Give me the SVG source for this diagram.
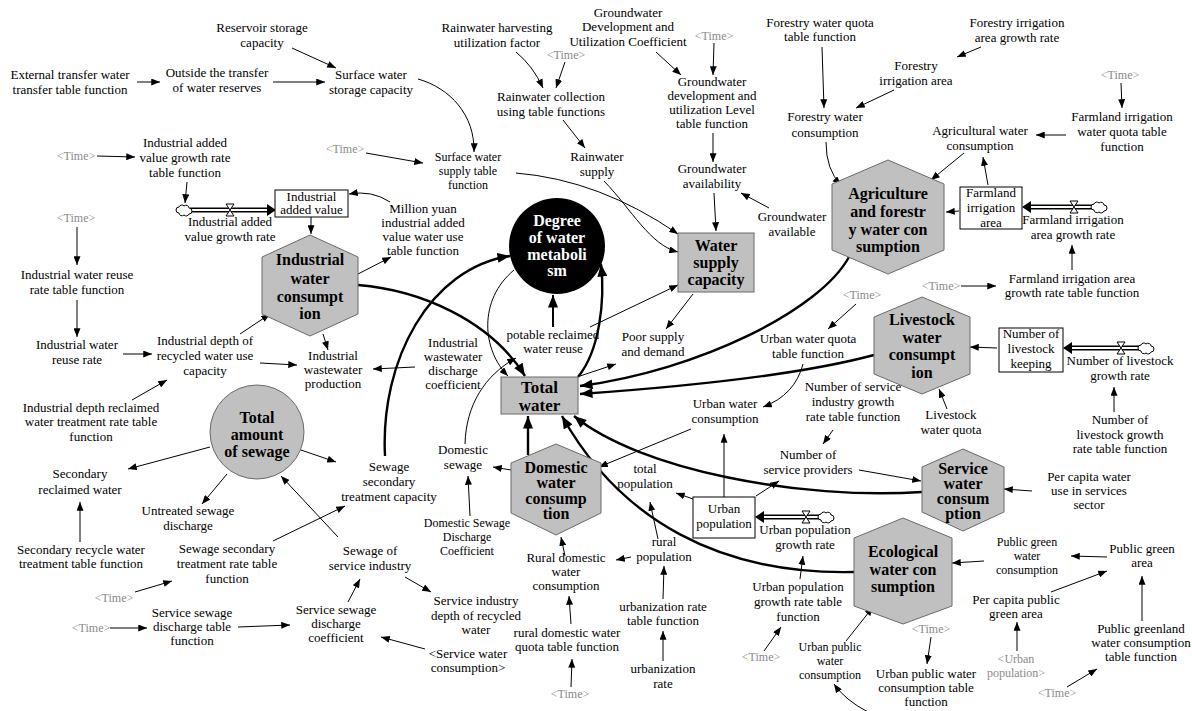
<svg xmlns="http://www.w3.org/2000/svg" width="1192" height="711" viewBox="0 0 1192 711">
<style>
.t{font-family:"Liberation Serif","Times New Roman",serif;font-size:13px;text-anchor:middle;fill:#000}
.s{font-size:12px}
.g{fill:#8a8a8a;font-size:12px}
.b{font-weight:bold;font-size:16px}
.w{fill:#fff}
.ln{fill:none;stroke:#000;stroke-width:1;marker-end:url(#a)}
.tk{fill:none;stroke:#000;stroke-width:2.4;marker-end:url(#A)}
.hex{fill:#c0c0c0;stroke:#6a6a6a;stroke-width:1}
.box{fill:#fff;stroke:#000;stroke-width:1}
.gbox{fill:#c0c0c0;stroke:#6a6a6a;stroke-width:1}
.po{fill:none;stroke:#000;stroke-width:5}
.pi{fill:none;stroke:#fff;stroke-width:2}
.vl{fill:#fff;stroke:#000;stroke-width:1}
</style>
<defs>
<marker id="a" viewBox="0 0 10 8" refX="10" refY="4" markerWidth="9" markerHeight="7" markerUnits="userSpaceOnUse" orient="auto"><path d="M0,0 L10,4 L0,8 z" fill="#000"/></marker>
<marker id="A" viewBox="0 0 10 8" refX="10" refY="4" markerWidth="13" markerHeight="10" markerUnits="userSpaceOnUse" orient="auto"><path d="M0,0 L10,4 L0,8 z" fill="#000"/></marker>
</defs>
<rect width="1192" height="711" fill="#fff"/>

<g id="connectors">
<path class="ln" d="M137,82 L160,82"/>
<path class="ln" d="M273,82 L325,82"/>
<path class="ln" d="M292,48 L336,68"/>
<path class="ln" d="M418,79 C450,88 475,115 474,152"/>
<path class="ln" d="M366,153 L423,163"/>
<path class="ln" d="M516,173 Q600,180 678,234"/>
<path class="ln" d="M516,52 Q533,66 543,88"/>
<path class="ln" d="M565,62 L556,88"/>
<path class="ln" d="M563,120 L585,148"/>
<path class="ln" d="M604,181 C632,210 650,245 678,252"/>
<path class="ln" d="M656,52 L681,75"/>
<path class="ln" d="M714,43 L713,75"/>
<path class="ln" d="M713,133 L713,162"/>
<path class="ln" d="M714,193 L716,231"/>
<path class="ln" d="M769,208 L741,193"/>
<path class="ln" d="M822,47 L824,108"/>
<path class="ln" d="M981,47 L957,57"/>
<path class="ln" d="M894,90 L856,108"/>
<path class="ln" d="M826,142 Q826,170 841,185"/>
<path class="ln" d="M1121,83 L1122,108"/>
<path class="ln" d="M1066,135 L1036,135"/>
<path class="ln" d="M964,153 L931,180"/>
<path class="ln" d="M988,185 L983,157"/>
<path class="ln" d="M959,211 L946,212"/>
<path class="ln" d="M1072,270 L1072,245"/>
<path class="ln" d="M961,286 L996,286"/>
<path class="ln" d="M97,156 L135,157"/>
<path class="ln" d="M187,182 L185,203"/>
<path class="ln" d="M311,217 L311,234"/>
<path class="ln" d="M390,202 Q372,190 349,194"/>
<path class="ln" d="M358,274 L391,257"/>
<path class="ln" d="M77,227 L77,265"/>
<path class="ln" d="M77,300 L77,337"/>
<path class="ln" d="M123,354 L152,354"/>
<path class="ln" d="M132,400 L167,380"/>
<path class="ln" d="M240,334 L270,314"/>
<path class="ln" d="M260,363 L297,365"/>
<path class="ln" d="M323,334 L328,350"/>
<path class="ln" d="M415,367 L373,369"/>
<path class="ln" d="M465,444 C466,405 485,375 516,358"/>
<path class="ln" d="M590,327 L678,285"/>
<path class="ln" d="M693,294 L666,329"/>
<path class="ln" d="M580,376 L616,364"/>
<path class="ln" d="M856,304 L828,329"/>
<path class="ln" d="M803,364 Q795,395 763,407"/>
<path class="ln" d="M691,429 L599,467"/>
<path class="ln" d="M724,497 L724,434"/>
<path class="ln" d="M833,430 L823,444"/>
<path class="ln" d="M859,470 L921,481"/>
<path class="ln" d="M756,496 L779,481"/>
<path class="ln" d="M997,348 L970,347"/>
<path class="ln" d="M1114,412 L1114,387"/>
<path class="ln" d="M947,409 L939,389"/>
<path class="ln" d="M1032,491 L1004,489"/>
<path class="ln" d="M693,499 L676,493"/>
<path class="ln" d="M658,539 L650,502"/>
<path class="ln" d="M631,557 L616,560"/>
<path class="ln" d="M663,599 L664,566"/>
<path class="ln" d="M663,661 L663,631"/>
<path class="ln" d="M800,579 L803,556"/>
<path class="ln" d="M764,651 L781,627"/>
<path class="ln" d="M846,641 L873,607"/>
<path class="ln" d="M868,712 Q845,700 834,684"/>
<path class="ln" d="M931,637 L927,664"/>
<path class="ln" d="M984,561 L952,563"/>
<path class="ln" d="M1107,557 L1071,556"/>
<path class="ln" d="M1051,592 L1107,571"/>
<path class="ln" d="M1017,651 L1017,622"/>
<path class="ln" d="M1142,621 L1142,576"/>
<path class="ln" d="M1067,687 L1097,669"/>
<path class="ln" d="M511,470 L493,467"/>
<path class="ln" d="M470,516 L468,476"/>
<path class="ln" d="M565,556 L561,537"/>
<path class="ln" d="M571,624 L569,596"/>
<path class="ln" d="M571,687 L572,659"/>
<path class="ln" d="M338,537 L281,476"/>
<path class="ln" d="M273,541 L345,506"/>
<path class="ln" d="M405,577 L431,592"/>
<path class="ln" d="M348,602 L360,579"/>
<path class="ln" d="M425,649 L381,637"/>
<path class="ln" d="M238,627 L290,625"/>
<path class="ln" d="M110,628 L147,628"/>
<path class="ln" d="M135,592 L172,581"/>
<path class="ln" d="M210,447 L128,469"/>
<path class="ln" d="M80,542 L80,502"/>
<path class="ln" d="M227,474 L202,504"/>
<path class="ln" d="M298,449 L336,462"/>
<path class="ln" d="M514,270 C478,300 482,350 508,376"/>
<path class="tk" d="M358,285 C420,290 490,320 525,376"/>
<path class="tk" d="M385,456 C380,360 430,268 510,256"/>
<path class="tk" d="M578,377 C600,350 605,300 601,264"/>
<path class="tk" d="M849,257 C820,310 700,370 580,386"/>
<path class="tk" d="M874,355 C800,375 680,387 580,394"/>
<path class="tk" d="M922,492 C800,500 640,470 574,416"/>
<path class="tk" d="M854,572 C720,575 620,520 562,416"/>
<path class="tk" d="M528,455 L528,416"/>
<path class="tk" style="stroke-width:2" d="M553,327 L553,295"/>
<path class="po" d="M190,210 H268"/><path class="pi" d="M190,210 H268"/>
<path d="M267,204 L276,210 L267,216 z" fill="#000"/>
<path class="vl" d="M226,204 H234 L230,210 L234,216 H226 L230,210 Z"/>
<path class="vl" d="M179,213 a3,3 0 0 1 0,-6 a3,3 0 0 1 5,-1 a3,3 0 0 1 5,2 a3,3 0 0 1 0,6 a3,3 0 0 1 -5,1 a3,3 0 0 1 -5,-2 z"/>
<path class="po" d="M1094,207 H1030"/><path class="pi" d="M1094,207 H1030"/>
<path d="M1031,201 L1022,207 L1031,213 z" fill="#000"/>
<path class="vl" d="M1070,201 H1078 L1074,207 L1078,213 H1070 L1074,207 Z"/>
<path class="vl" d="M1094,210 a3,3 0 0 1 0,-6 a3,3 0 0 1 5,-1 a3,3 0 0 1 5,2 a3,3 0 0 1 0,6 a3,3 0 0 1 -5,1 a3,3 0 0 1 -5,-2 z"/>
<path class="po" d="M1141,348 H1071"/><path class="pi" d="M1141,348 H1071"/>
<path d="M1072,342 L1063,348 L1072,354 z" fill="#000"/>
<path class="vl" d="M1117,342 H1125 L1121,348 L1125,354 H1117 L1121,348 Z"/>
<path class="vl" d="M1141,351 a3,3 0 0 1 0,-6 a3,3 0 0 1 5,-1 a3,3 0 0 1 5,2 a3,3 0 0 1 0,6 a3,3 0 0 1 -5,1 a3,3 0 0 1 -5,-2 z"/>
<path class="po" d="M821,517 H763"/><path class="pi" d="M821,517 H763"/>
<path d="M764,511 L755,517 L764,523 z" fill="#000"/>
<path class="vl" d="M802,511 H810 L806,517 L810,523 H802 L806,517 Z"/>
<path class="vl" d="M821,520 a3,3 0 0 1 0,-6 a3,3 0 0 1 5,-1 a3,3 0 0 1 5,2 a3,3 0 0 1 0,6 a3,3 0 0 1 -5,1 a3,3 0 0 1 -5,-2 z"/>
</g>

<g id="reservoir"><text class="t"><tspan x="262" y="32">Reservoir storage</tspan><tspan x="262" y="47">capacity</tspan></text></g>
<g id="ext-transfer"><text class="t"><tspan x="70" y="79">External transfer water</tspan><tspan x="70" y="94">transfer table function</tspan></text></g>
<g id="outside-transfer"><text class="t"><tspan x="217" y="77">Outside the transfer</tspan><tspan x="217" y="92">of water reserves</tspan></text></g>
<g id="surface-storage"><text class="t"><tspan x="371" y="79">Surface water</tspan><tspan x="371" y="94">storage capacity</tspan></text></g>
<g id="rain-factor"><text class="t"><tspan x="497" y="32">Rainwater harvesting</tspan><tspan x="497" y="47">utilization factor</tspan></text></g>
<g id="time1"><text class="t g" x="566" y="59">&lt;Time&gt;</text></g>
<g id="gw-coef"><text class="t"><tspan x="628" y="17">Groundwater</tspan><tspan x="628" y="31">Development and</tspan><tspan x="628" y="46">Utilization Coefficient</tspan></text></g>
<g id="time2"><text class="t g" x="714" y="40">&lt;Time&gt;</text></g>
<g id="rain-collect"><text class="t"><tspan x="551" y="101">Rainwater collection</tspan><tspan x="551" y="116">using table functions</tspan></text></g>
<g id="gw-level"><text class="t"><tspan x="712" y="86">Groundwater</tspan><tspan x="712" y="100">development and</tspan><tspan x="712" y="114">utilization Level</tspan><tspan x="712" y="128">table function</tspan></text></g>
<g id="forestry-quota"><text class="t"><tspan x="820" y="27">Forestry water quota</tspan><tspan x="820" y="41">table function</tspan></text></g>
<g id="forestry-growth"><text class="t"><tspan x="1017" y="27">Forestry irrigation</tspan><tspan x="1017" y="42">area growth rate</tspan></text></g>
<g id="forestry-area"><text class="t"><tspan x="916" y="70">Forestry</tspan><tspan x="916" y="85">irrigation area</tspan></text></g>
<g id="time3"><text class="t g" x="1120" y="79">&lt;Time&gt;</text></g>
<g id="forestry-consumption"><text class="t"><tspan x="825" y="121">Forestry water</tspan><tspan x="825" y="137">consumption</tspan></text></g>
<g id="farm-quota"><text class="t"><tspan x="1122" y="121">Farmland irrigation</tspan><tspan x="1122" y="136">water quota table</tspan><tspan x="1122" y="151">function</tspan></text></g>
<g id="agri-water"><text class="t"><tspan x="980" y="135">Agricultural water</tspan><tspan x="980" y="150">consumption</tspan></text></g>
<g id="time4"><text class="t g" x="345" y="153">&lt;Time&gt;</text></g>
<g id="surface-supply"><text class="t s"><tspan x="468" y="161">Surface water</tspan><tspan x="468" y="175">supply table</tspan><tspan x="468" y="189">function</tspan></text></g>
<g id="rain-supply"><text class="t"><tspan x="597" y="161">Rainwater</tspan><tspan x="597" y="176">supply</tspan></text></g>
<g id="gw-avail"><text class="t"><tspan x="712" y="173">Groundwater</tspan><tspan x="712" y="188">availability</tspan></text></g>
<g id="gw-available"><text class="t"><tspan x="792" y="221">Groundwater</tspan><tspan x="792" y="236">available</tspan></text></g>
<g id="time5"><text class="t g" x="76" y="160">&lt;Time&gt;</text></g>
<g id="ind-growth-table"><text class="t"><tspan x="185" y="147">Industrial added</tspan><tspan x="185" y="162">value growth rate</tspan><tspan x="185" y="177">table function</tspan></text></g>
<g id="ind-added-value"><rect class="box" x="275" y="190" width="73" height="27"/><text class="t"><tspan x="311.5" y="201">Industrial</tspan><tspan x="311.5" y="214">added value</tspan></text></g>
<g id="ind-growth-rate"><text class="t"><tspan x="230" y="226">Industrial added</tspan><tspan x="230" y="241">value growth rate</tspan></text></g>
<g id="million-yuan"><text class="t"><tspan x="423" y="213">Million yuan</tspan><tspan x="423" y="227">industrial added</tspan><tspan x="423" y="241">value water use</tspan><tspan x="423" y="255">table function</tspan></text></g>
<g id="time6"><text class="t g" x="76" y="222">&lt;Time&gt;</text></g>
<g id="ind-reuse-table"><text class="t"><tspan x="77" y="279">Industrial water reuse</tspan><tspan x="77" y="294">rate table function</tspan></text></g>
<g id="ind-reuse-rate"><text class="t"><tspan x="77" y="349">Industrial water</tspan><tspan x="77" y="364">reuse rate</tspan></text></g>
<g id="ind-depth"><text class="t"><tspan x="205" y="345">Industrial depth of</tspan><tspan x="205" y="360">recycled water use</tspan><tspan x="205" y="375">capacity</tspan></text></g>
<g id="ind-depth-reclaimed"><text class="t"><tspan x="91" y="412">Industrial depth reclaimed</tspan><tspan x="91" y="426">water treatment rate table</tspan><tspan x="91" y="441">function</tspan></text></g>
<g id="ind-wastewater"><text class="t"><tspan x="333" y="360">Industrial</tspan><tspan x="333" y="374">wastewater</tspan><tspan x="333" y="388">production</tspan></text></g>
<g id="ind-discharge-coef"><text class="t"><tspan x="453" y="347">Industrial</tspan><tspan x="453" y="361">wastewater</tspan><tspan x="453" y="375">discharge</tspan><tspan x="453" y="389">coefficient</tspan></text></g>
<g id="potable"><text class="t"><tspan x="553" y="339">potable reclaimed</tspan><tspan x="553" y="353">water reuse</tspan></text></g>
<g id="poor"><text class="t"><tspan x="653" y="341">Poor supply</tspan><tspan x="653" y="356">and demand</tspan></text></g>
<g id="time7"><text class="t g" x="862" y="299">&lt;Time&gt;</text></g>
<g id="urban-quota"><text class="t"><tspan x="808" y="343">Urban water quota</tspan><tspan x="808" y="358">table function</tspan></text></g>
<g id="farm-growth-table"><text class="t"><tspan x="1072" y="283">Farmland irrigation area</tspan><tspan x="1072" y="297">growth rate table function</tspan></text></g>
<g id="time8"><text class="t g" x="941" y="290">&lt;Time&gt;</text></g>
<g id="urban-water"><text class="t"><tspan x="725" y="408">Urban water</tspan><tspan x="725" y="423">consumption</tspan></text></g>
<g id="service-growth-table"><text class="t"><tspan x="853" y="391">Number of service</tspan><tspan x="853" y="406">industry growth</tspan><tspan x="853" y="421">rate table function</tspan></text></g>
<g id="service-providers"><text class="t"><tspan x="808" y="459">Number of</tspan><tspan x="808" y="474">service providers</tspan></text></g>
<g id="farmland-area"><rect class="box" x="960" y="187" width="62" height="42"/><text class="t"><tspan x="991" y="197">Farmland</tspan><tspan x="991" y="212">irrigation</tspan><tspan x="991" y="227">area</tspan></text></g>
<g id="farmland-growth"><text class="t"><tspan x="1073" y="224">Farmland irrigation</tspan><tspan x="1073" y="239">area growth rate</tspan></text></g>
<g id="livestock-keeping"><rect class="box" x="999" y="328" width="64" height="44"/><text class="t"><tspan x="1031" y="338">Number of</tspan><tspan x="1031" y="353">livestock</tspan><tspan x="1031" y="368">keeping</tspan></text></g>
<g id="livestock-growth"><text class="t"><tspan x="1120" y="365">Number of livestock</tspan><tspan x="1120" y="380">growth rate</tspan></text></g>
<g id="livestock-growth-table"><text class="t"><tspan x="1120" y="424">Number of</tspan><tspan x="1120" y="439">livestock growth</tspan><tspan x="1120" y="453">rate table function</tspan></text></g>
<g id="livestock-quota"><text class="t"><tspan x="951" y="419">Livestock</tspan><tspan x="951" y="434">water quota</tspan></text></g>
<g id="per-capita-service"><text class="t"><tspan x="1089" y="481">Per capita water</tspan><tspan x="1089" y="495">use in services</tspan><tspan x="1089" y="509">sector</tspan></text></g>
<g id="total-population"><text class="t"><tspan x="645" y="473">total</tspan><tspan x="645" y="488">population</tspan></text></g>
<g id="urban-pop"><rect class="box" x="693" y="497" width="62" height="41"/><text class="t"><tspan x="724" y="513">Urban</tspan><tspan x="724" y="528">population</tspan></text></g>
<g id="urban-pop-growth"><text class="t"><tspan x="805" y="534">Urban population</tspan><tspan x="805" y="549">growth rate</tspan></text></g>
<g id="rural-pop"><text class="t"><tspan x="664" y="546">rural</tspan><tspan x="664" y="561">population</tspan></text></g>
<g id="urbanization-table"><text class="t"><tspan x="663" y="611">urbanization rate</tspan><tspan x="663" y="625">table function</tspan></text></g>
<g id="urbanization-rate"><text class="t"><tspan x="663" y="673">urbanization</tspan><tspan x="663" y="688">rate</tspan></text></g>
<g id="urban-pop-growth-table"><text class="t"><tspan x="798" y="591">Urban population</tspan><tspan x="798" y="606">growth rate table</tspan><tspan x="798" y="621">function</tspan></text></g>
<g id="time9"><text class="t g" x="761" y="661">&lt;Time&gt;</text></g>
<g id="urban-public"><text class="t s"><tspan x="830" y="651">Urban public</tspan><tspan x="830" y="665">water</tspan><tspan x="830" y="679">consumption</tspan></text></g>
<g id="urban-public-table"><text class="t"><tspan x="926" y="678">Urban public water</tspan><tspan x="926" y="692">consumption table</tspan><tspan x="926" y="706">function</tspan></text></g>
<g id="time10"><text class="t g" x="931" y="633">&lt;Time&gt;</text></g>
<g id="public-green-water"><text class="t s"><tspan x="1027" y="546">Public green</tspan><tspan x="1027" y="560">water</tspan><tspan x="1027" y="574">consumption</tspan></text></g>
<g id="public-green-area"><text class="t"><tspan x="1142" y="553">Public green</tspan><tspan x="1142" y="567">area</tspan></text></g>
<g id="per-capita-green"><text class="t"><tspan x="1016" y="604">Per capita public</tspan><tspan x="1016" y="618">green area</tspan></text></g>
<g id="urban-pop-shadow"><text class="t g"><tspan x="1016" y="663">&lt;Urban</tspan><tspan x="1016" y="677">population&gt;</tspan></text></g>
<g id="greenland-table"><text class="t"><tspan x="1141" y="633">Public greenland</tspan><tspan x="1141" y="647">water consumption</tspan><tspan x="1141" y="661">table function</tspan></text></g>
<g id="time11"><text class="t g" x="1057" y="697">&lt;Time&gt;</text></g>
<g id="domestic-coef"><text class="t s"><tspan x="467" y="527">Domestic Sewage</tspan><tspan x="467" y="541">Discharge</tspan><tspan x="467" y="555">Coefficient</tspan></text></g>
<g id="domestic-sewage"><text class="t"><tspan x="463" y="454">Domestic</tspan><tspan x="463" y="469">sewage</tspan></text></g>
<g id="sewage-service"><text class="t"><tspan x="370" y="555">Sewage of</tspan><tspan x="370" y="570">service industry</tspan></text></g>
<g id="service-depth"><text class="t"><tspan x="476" y="605">Service industry</tspan><tspan x="476" y="620">depth of recycled</tspan><tspan x="476" y="634">water</tspan></text></g>
<g id="service-sewage-coef"><text class="t"><tspan x="336" y="614">Service sewage</tspan><tspan x="336" y="628">discharge</tspan><tspan x="336" y="642">coefficient</tspan></text></g>
<g id="service-water-shadow"><text class="t"><tspan x="468" y="658">&lt;Service water</tspan><tspan x="468" y="672">consumption&gt;</tspan></text></g>
<g id="rural-domestic"><text class="t"><tspan x="566" y="562">Rural domestic</tspan><tspan x="566" y="576">water</tspan><tspan x="566" y="590">consumption</tspan></text></g>
<g id="rural-quota-table"><text class="t"><tspan x="567" y="637">rural domestic water</tspan><tspan x="567" y="651">quota table function</tspan></text></g>
<g id="time12"><text class="t g" x="570" y="698">&lt;Time&gt;</text></g>
<g id="secondary-reclaimed"><text class="t"><tspan x="80" y="478">Secondary</tspan><tspan x="80" y="494">reclaimed water</tspan></text></g>
<g id="secondary-table"><text class="t"><tspan x="81" y="554">Secondary recycle water</tspan><tspan x="81" y="568">treatment table function</tspan></text></g>
<g id="untreated"><text class="t"><tspan x="188" y="515">Untreated sewage</tspan><tspan x="188" y="530">discharge</tspan></text></g>
<g id="sewage-rate-table"><text class="t"><tspan x="227" y="553">Sewage secondary</tspan><tspan x="227" y="568">treatment rate table</tspan><tspan x="227" y="583">function</tspan></text></g>
<g id="time13"><text class="t g" x="114" y="602">&lt;Time&gt;</text></g>
<g id="time14"><text class="t g" x="91" y="632">&lt;Time&gt;</text></g>
<g id="service-discharge-table"><text class="t"><tspan x="192" y="617">Service sewage</tspan><tspan x="192" y="631">discharge table</tspan><tspan x="192" y="645">function</tspan></text></g>
<g id="sewage-capacity"><text class="t"><tspan x="389" y="471">Sewage</tspan><tspan x="389" y="486">secondary</tspan><tspan x="389" y="501">treatment capacity</tspan></text></g>

<g id="industrial-water"><polygon class="hex" points="310,235 358,257 358,314 310,336 262,314 262,257"/><text class="t b"><tspan x="310" y="265">Industrial</tspan><tspan x="310" y="284">water</tspan><tspan x="310" y="302">consumpt</tspan><tspan x="310" y="319">ion</tspan></text></g>
<g id="degree"><circle cx="557" cy="246" r="48" fill="#000"/><text class="t b w"><tspan x="557" y="226">Degree</tspan><tspan x="557" y="243">of water</tspan><tspan x="557" y="260">metaboli</tspan><tspan x="557" y="276">sm</tspan></text></g>
<g id="water-supply"><rect class="gbox" x="678" y="233" width="76" height="59"/><text class="t b"><tspan x="716" y="251">Water</tspan><tspan x="716" y="268">supply</tspan><tspan x="716" y="285">capacity</tspan></text></g>
<g id="agriculture"><polygon class="hex" points="888,160 944,184 944,250 888,274 832,250 832,184"/><text class="t b"><tspan x="888" y="199">Agriculture</tspan><tspan x="888" y="217">and forestr</tspan><tspan x="888" y="235">y water con</tspan><tspan x="888" y="252">sumption</tspan></text></g>
<g id="total-water"><rect class="gbox" x="501" y="377" width="77" height="37"/><text class="t b" style="font-size:17px"><tspan x="539.5" y="393">Total</tspan><tspan x="539.5" y="411">water</tspan></text></g>
<g id="livestock"><polygon class="hex" points="922,297 970,317 970,374 922,394 874,374 874,317"/><text class="t b"><tspan x="922" y="325">Livestock</tspan><tspan x="922" y="343">water</tspan><tspan x="922" y="360">consumpt</tspan><tspan x="922" y="378">ion</tspan></text></g>
<g id="total-sewage"><circle cx="257" cy="432" r="47" fill="#c0c0c0" stroke="#6a6a6a"/><text class="t b"><tspan x="257" y="423">Total</tspan><tspan x="257" y="440">amount</tspan><tspan x="257" y="457">of sewage</tspan></text></g>
<g id="domestic"><polygon class="hex" points="556,444 601,463 601,513 556,535 511,513 511,463"/><text class="t b"><tspan x="556" y="473">Domestic</tspan><tspan x="556" y="488">water</tspan><tspan x="556" y="504">consump</tspan><tspan x="556" y="519">tion</tspan></text></g>
<g id="service"><polygon class="hex" points="963,449 1004,467 1004,512 963,531 922,512 922,467"/><text class="t b"><tspan x="963" y="474">Service</tspan><tspan x="963" y="489">water</tspan><tspan x="963" y="504">consum</tspan><tspan x="963" y="519">ption</tspan></text></g>
<g id="ecological"><polygon class="hex" points="903,518 952,538 952,606 903,624 854,606 854,538"/><text class="t b"><tspan x="903" y="557">Ecological</tspan><tspan x="903" y="575">water con</tspan><tspan x="903" y="592">sumption</tspan></text></g>
</svg>
